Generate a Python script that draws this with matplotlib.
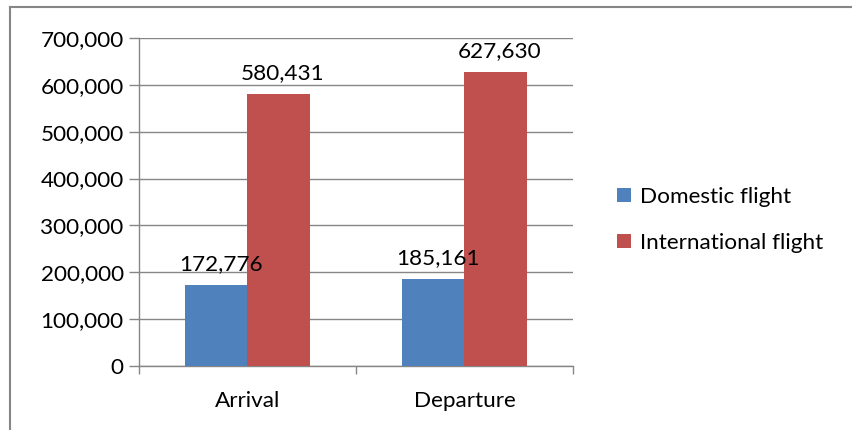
import numpy as np
import matplotlib.pyplot as plt
from matplotlib.lines import Line2D
from matplotlib.ticker import FuncFormatter

categories = ['Arrival', 'Departure']
series_names = ['Domestic flight', 'International flight']
domestic = [172776, 185161]
international = [580431, 627630]
colors = ['#4F81BD', '#C0504D']

plt.rcParams['font.family'] = ['Lato', 'DejaVu Sans']
fs = 16.2

fig = plt.figure(figsize=(8.53, 4.30), dpi=100)
# outer chart frame: only top and left edges show in the crop
fig.lines.append(Line2D([10/853, 10/853], [0, 1 - 7/430], transform=fig.transFigure,
                        color='#868686', lw=1.5))
fig.lines.append(Line2D([10/853, 1], [1 - 7/430, 1 - 7/430], transform=fig.transFigure,
                        color='#868686', lw=1.5))

ax = fig.add_axes([139/853, 1 - 366/430, (573 - 139)/853, (366 - 38)/430])

x = np.arange(len(categories))
w = 0.286
for i, (vals, name) in enumerate(zip([domestic, international], series_names)):
    b = ax.bar(x + (i - 0.5) * w, vals, w, color=colors[i], label=name, zorder=3)
    for rect, v in zip(b, vals):
        ax.annotate(f'{v:,}', xy=(rect.get_x() + rect.get_width()/2, v),
                    xytext=(3, 8), textcoords='offset points',
                    ha='center', va='bottom', fontsize=fs, zorder=4)

ax.set_xlim(-0.5, 1.5)
ax.set_ylim(0, 700000)
ax.set_yticks(np.arange(0, 700001, 100000))
ax.yaxis.set_major_formatter(FuncFormatter(lambda v, p: f'{int(v):,}'))
ax.grid(axis='y', color='#868686', lw=1, zorder=0)

ax.set_xticks(x)
ax.set_xticklabels(categories)
ax.set_xticks([-0.5, 0.5, 1.5], minor=True)
ax.tick_params(axis='x', which='major', length=0, pad=18, labelsize=fs)
ax.tick_params(axis='x', which='minor', length=6, color='#868686', width=1)
ax.tick_params(axis='y', length=7, color='#868686', width=1, labelsize=fs, pad=4)

for s in ['top', 'right']:
    ax.spines[s].set_visible(False)
for s in ['left', 'bottom']:
    ax.spines[s].set_color('#868686')
    ax.spines[s].set_linewidth(1)

ax.legend(loc='center left', bbox_to_anchor=(597/853, 1 - 220/430), bbox_transform=fig.transFigure,
          frameon=False, fontsize=fs, handlelength=0.6, handleheight=0.6,
          handletextpad=0.4, labelspacing=1.15)

fig.savefig('out.png', dpi=100)
